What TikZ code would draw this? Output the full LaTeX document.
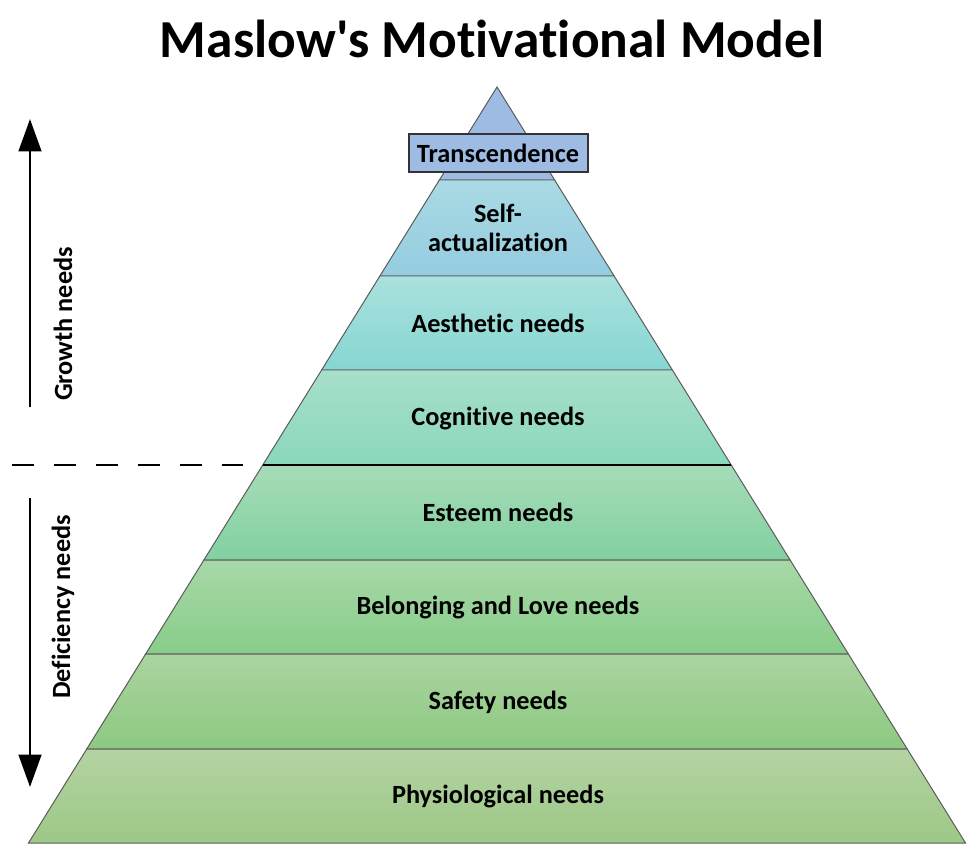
\documentclass[tikz,border=0pt]{standalone}
\usepackage{fontspec}
\newfontfamily\maslowfont{Carlito}[Ligatures=NoCommon]
\usepackage{xcolor}
\usetikzlibrary{arrows.meta,positioning,calc}

\definecolor{edge}{HTML}{5A5A5A}
\definecolor{trans}{HTML}{9DBBE3}
\definecolor{selfA}{HTML}{A9DAE4}\definecolor{selfB}{HTML}{95CCE0}
\definecolor{aesA}{HTML}{AAE1DD}\definecolor{aesB}{HTML}{86D6D2}
\definecolor{cogA}{HTML}{A8DFC9}\definecolor{cogB}{HTML}{8AD8BC}
\definecolor{estA}{HTML}{A6DCB8}\definecolor{estB}{HTML}{82D0A1}
\definecolor{belA}{HTML}{A8D8A8}\definecolor{belB}{HTML}{87CD89}
\definecolor{safA}{HTML}{AAD4A0}\definecolor{safB}{HTML}{8DC981}
\definecolor{phyA}{HTML}{B4D3A3}\definecolor{phyB}{HTML}{9DC886}

\begin{document}
\begin{tikzpicture}[x=0.025cm,y=-0.025cm,font=\maslowfont\bfseries,
    lbl/.style={font=\maslowfont\fontsize{18.7}{20.5}\selectfont\bfseries,align=center},
    side/.style={font=\maslowfont\fontsize{18.7}{20.5}\selectfont\bfseries,rotate=90},
    bigarrow/.style={line width=2.1pt,-{Triangle[length=23pt,width=16pt]}}]
  % canvas 972 x 849 px, y grows downwards
  \useasboundingbox (0,0) rectangle (972,849);
  % left / right edge of the pyramid at height y (apex at 497,87)
  \def\PL#1{({497-(#1-87)*0.6197},#1)}
  \def\PR#1{({497+(#1-87)*0.6197},#1)}
  \def\layer#1#2#3{  % ytop, ybot, colour prefix
    \shade[top color=#3A,bottom color=#3B,draw=edge,line width=0.7pt]
      \PL{#1} -- \PR{#1} -- \PR{#2} -- \PL{#2} -- cycle;
  }
  \node[font=\maslowfont\fontsize{38}{42}\selectfont\bfseries] (title) at (492,39) {Maslow's Motivational Model};

  % tip of the pyramid with the box on top
  \fill[trans,draw=edge,line width=0.7pt] (497,87) -- \PR{180} -- \PL{180} -- cycle;
  \layer{180}{276}{self}
  \layer{276}{370}{aes}
  \layer{370}{465}{cog}
  \layer{465}{560}{est}
  \layer{560}{654}{bel}
  \layer{654}{749}{saf}
  \layer{749}{843}{phy}
  \draw[fill=trans,draw=black!80,line width=0.8pt] (409,134) rectangle (588,172);

  % labels
  \node[lbl] (transc) at (498,153) {Transcendence};
  \node[lbl] (selfact) at (498,228) {Self-\\actualization};
  \node[lbl] (aesth) at (498,323) {Aesthetic needs};
  \node[lbl] (cogn) at (498,418) {Cognitive needs};
  \node[lbl] (esteem) at (498,512) {Esteem needs};
  \node[lbl] (belong) at (498,607) {Belonging and Love needs};
  \node[lbl] (safety) at (498,702) {Safety needs};
  \node[lbl] (physio) at (498,796) {Physiological needs};

  % growth / deficiency split
  \coordinate (cutL) at (263,465);
  \coordinate (cutR) at (731,465);
  \draw[line width=2pt] (cutL) -- (cutR);
  \coordinate (dashL) at (12,465);
  \coordinate (dashR) at (246,465);
  \draw[line width=1.8pt,dash pattern=on 15.6pt off 14.2pt] (dashL) -- (dashR);

  % side arrows
  \coordinate (gbot) at (30,407);
  \coordinate (gtop) at (30,119);
  \draw[bigarrow] (gbot) -- (gtop);
  \node[side] (growth) at (63,324) {Growth needs};
  \coordinate (dtop) at (30,498);
  \coordinate (dbot) at (30,787);
  \draw[bigarrow] (dtop) -- (dbot);
  \node[side] (defic) at (63,607) {Deficiency needs};
\end{tikzpicture}
\end{document}
